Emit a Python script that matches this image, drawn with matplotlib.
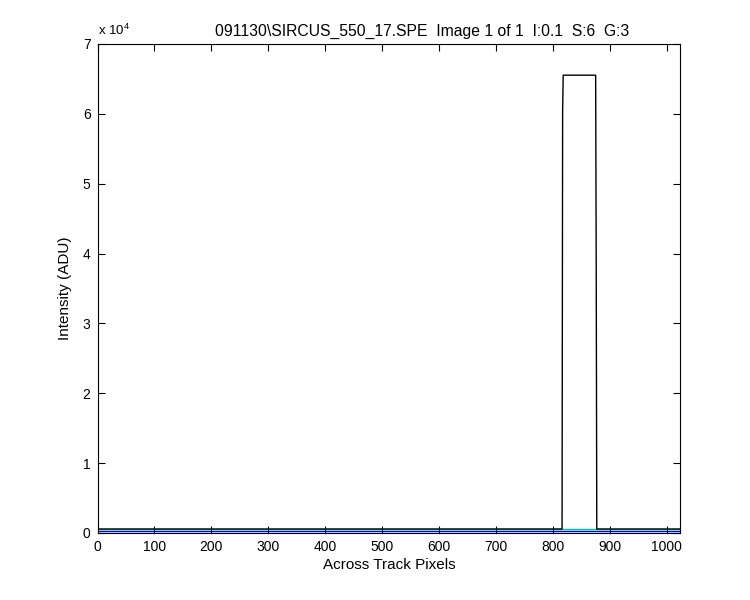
import numpy as np
import matplotlib
matplotlib.use('Agg')
import matplotlib.pyplot as plt

plt.rcParams['font.family'] = ['Liberation Sans', 'DejaVu Sans']
plt.rcParams['mathtext.default'] = 'regular'

# data
n_pixels = 1024
blue_level = 330      # lower trace
cyan_level = 560      # trace hidden under black except below the peak
black_level = 570     # baseline of the main trace
rise_index = 817
rise_value = 60400
top_start, top_end = 818, 875
top_value = 65535     # saturated
fall_index = 876
fall_value = 38000

x = np.arange(n_pixels)
blue = np.full(n_pixels, blue_level, dtype=float)
cyan = np.full(n_pixels, cyan_level, dtype=float)
black = np.full(n_pixels, black_level, dtype=float)
black[rise_index] = rise_value
black[top_start:top_end + 1] = top_value
black[fall_index] = fall_value

fig = plt.figure(figsize=(7.5, 6), dpi=100)
ax = fig.add_axes([0.13, 0.1117, 0.7773, 0.815])

ax.plot(x, blue, color='#0000ff', lw=1.0)
ax.plot(x, cyan, color='#00bfbf', lw=1.0)
ax.plot(x, black, color='black', lw=1.0)

ax.set_xlim(0, n_pixels)
ax.set_ylim(0, 70000)
ax.set_xticks(np.arange(0, 1001, 100))
ax.set_yticks(np.arange(0, 70001, 10000))
ax.set_yticklabels([str(i) for i in range(8)])
ax.tick_params(direction='in', length=5, width=0.8, top=True, right=True,
               labelsize=10, pad=5)
for s in ax.spines.values():
    s.set_linewidth(0.8)

ax.set_xlabel('Across Track Pixels', fontsize=11, labelpad=3)
ax.set_ylabel('Intensity (ADU)', fontsize=11, labelpad=8)
ax.text(0.0, 1.012, r'x 10$^{4}$', transform=ax.transAxes, fontsize=9.5,
        ha='left', va='bottom')
fig.text(0.563, 0.948,
         '091130\\SIRCUS_550_17.SPE  Image 1 of 1  I:0.1  S:6  G:3',
         ha='center', va='center', fontsize=11.3)

fig.savefig('out.png', dpi=100)
